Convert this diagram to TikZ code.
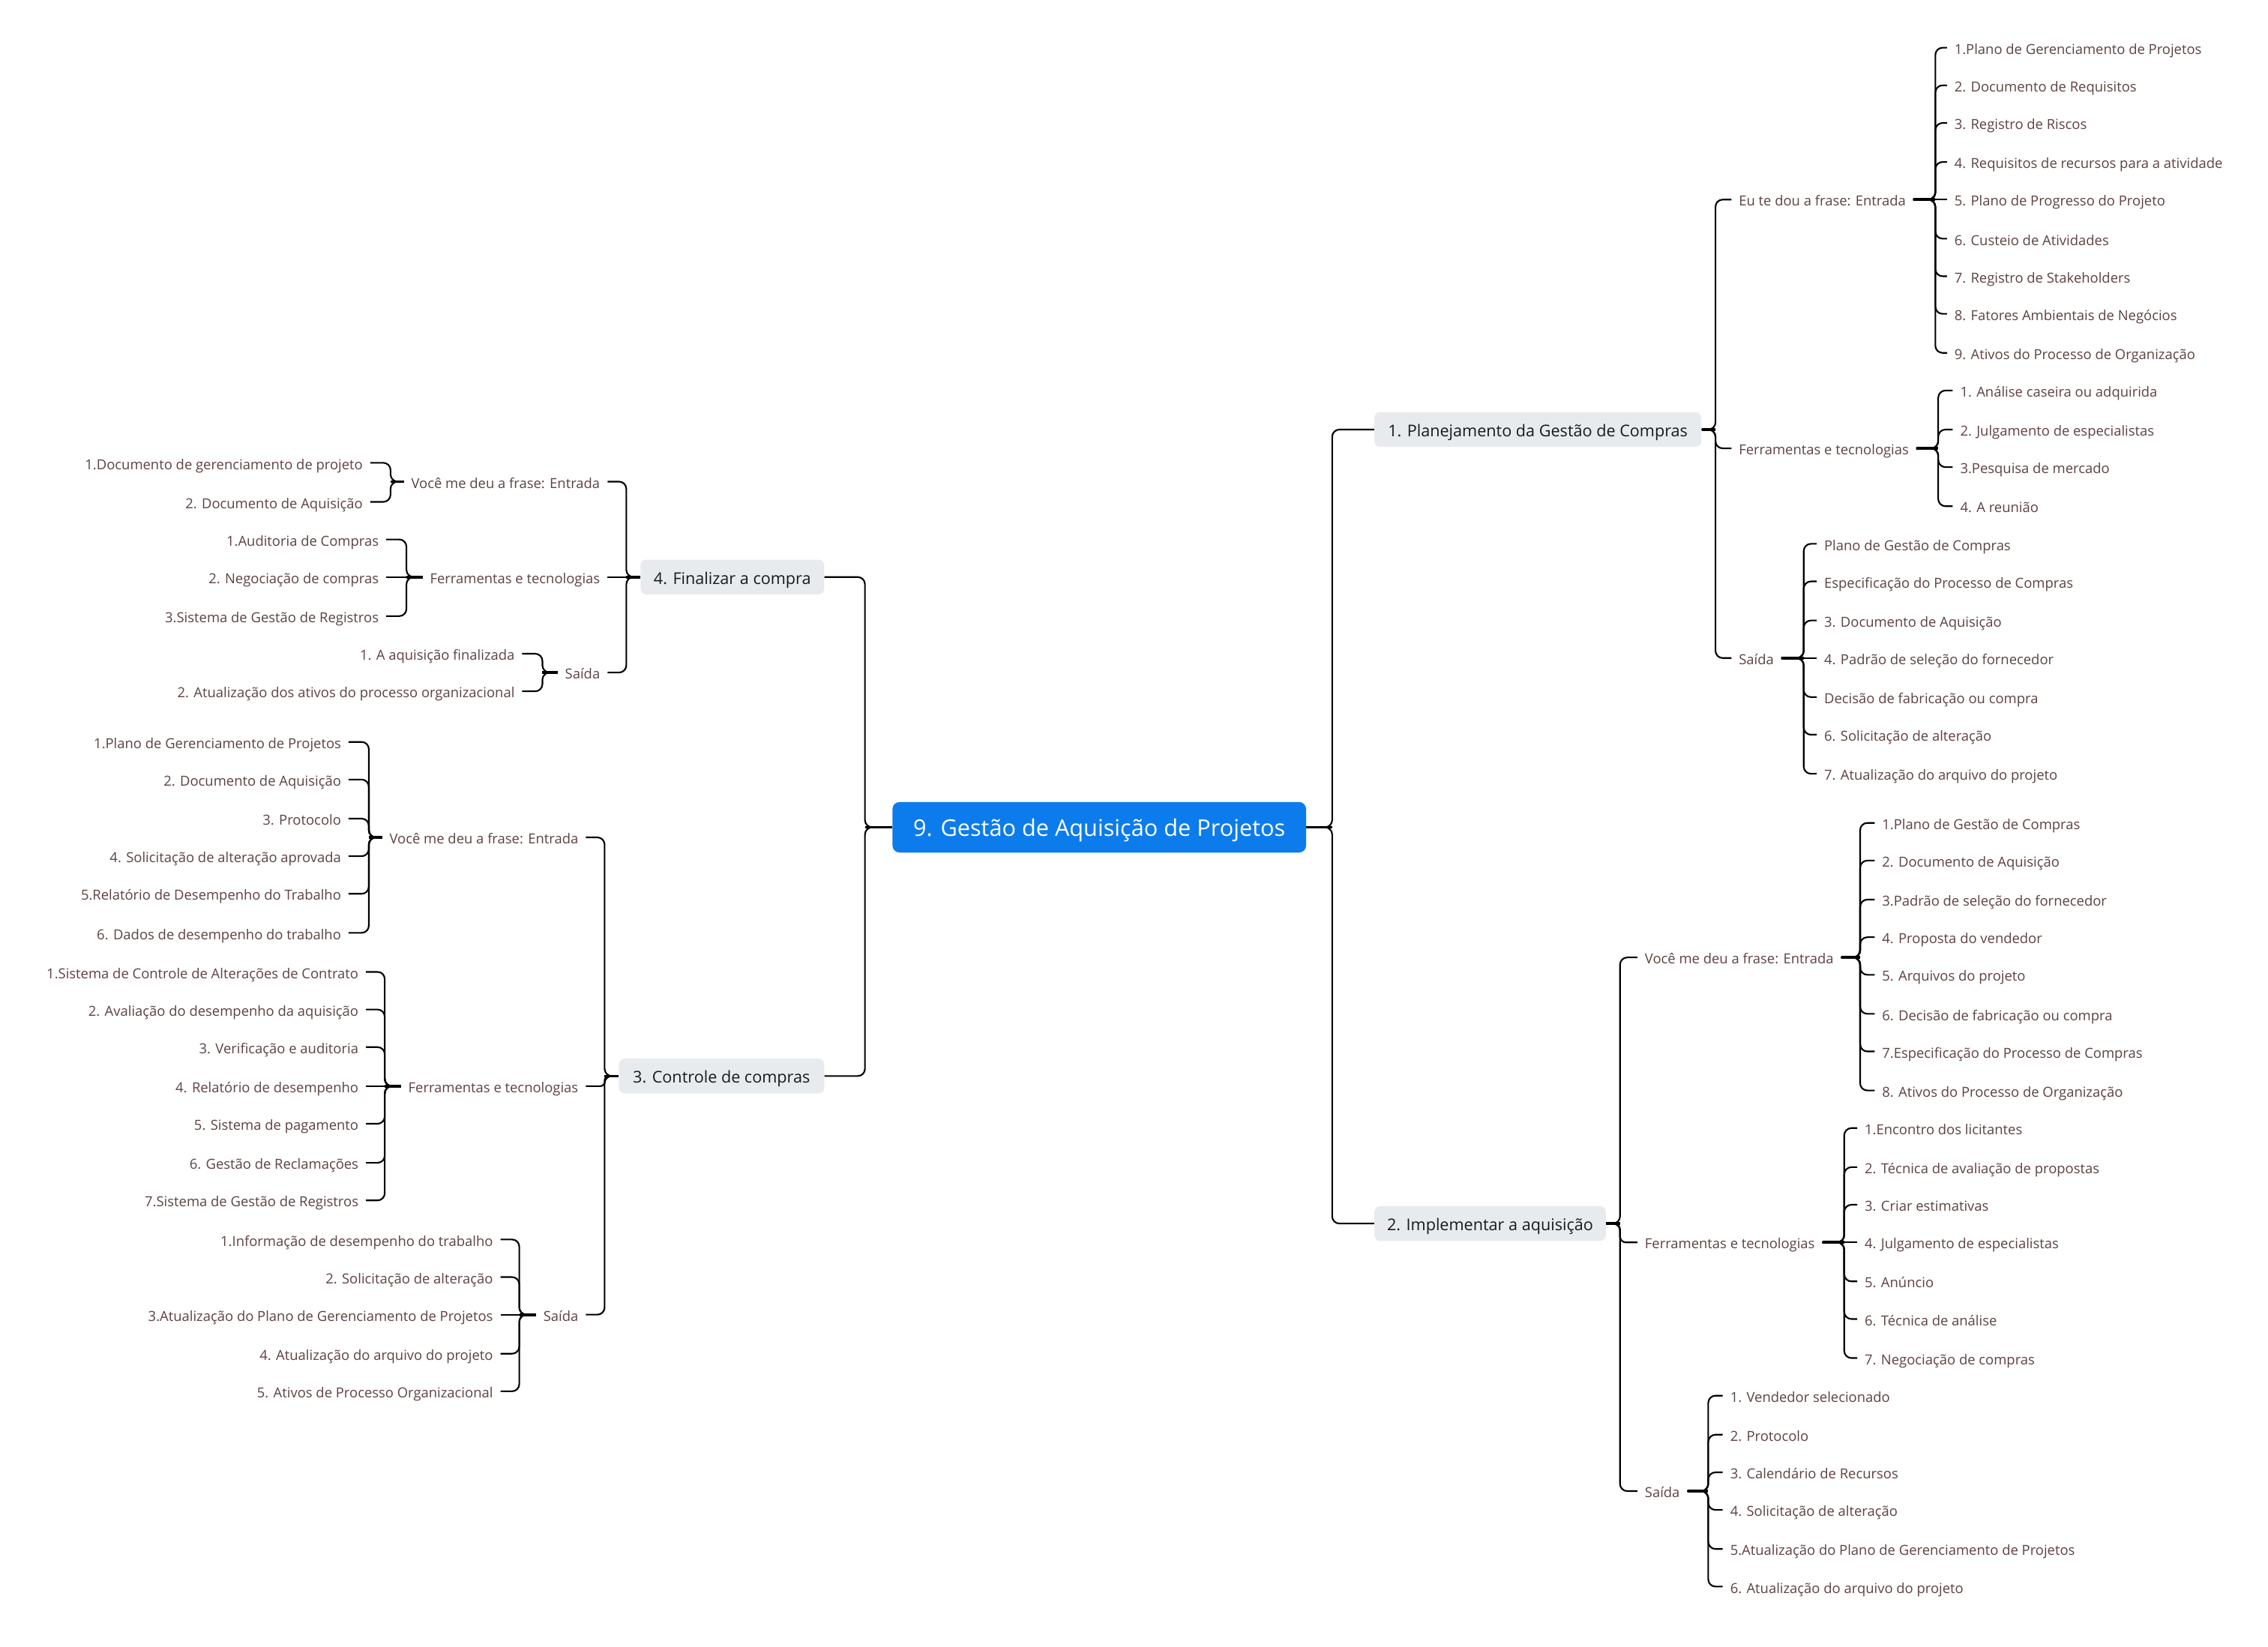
\documentclass[tikz,border=0pt]{standalone}
\usepackage{fontspec}
\setmainfont{Open Sans}
\definecolor{txt}{HTML}{5E4242}
\definecolor{rootblue}{HTML}{0C7CEC}
\definecolor{boxgray}{HTML}{E8EBEE}
\newcommand\linkR[3]{\draw[conn] (#1.east) -- (#1.east -| #2) |- (#3.west);}
\newcommand\linkL[3]{\draw[conn] (#1.west) -- (#1.west -| #2) |- (#3.east);}
\newcommand\linkRS[2]{\draw[conn] (#1.east) -- (#2.west);}
\newcommand\linkLS[2]{\draw[conn] (#1.west) -- (#2.east);}
\newcommand\stubR[2]{\draw[stubline] (#1.east) -- (#1.east -| #2);}
\newcommand\stubL[2]{\draw[stubline] (#1.west) -- (#1.west -| #2);}
\newcommand\itemsR[3]{\foreach \yv/\tv [count=\ci] in {#3} {\node[item,anchor=west] (#1-\ci) at (#2,\yv) {\tv};}}
\newcommand\itemsL[3]{\foreach \yv/\tv [count=\ci] in {#3} {\node[item,anchor=east] (#1-\ci) at (#2,\yv) {\tv};}}
\begin{document}
\begin{tikzpicture}[x=1pt,y=-1pt,
  item/.style={font=\fontsize{9.55}{11}\selectfont, text=txt, inner xsep=5pt, inner ysep=1pt, text height=11pt, text depth=2pt},
  lvone/.style={font=\fontsize{11.2}{13}\selectfont, fill=boxgray, rounded corners=4pt, text=black!90, inner xsep=4pt, inner ysep=1pt, minimum height=24pt, text height=12pt, text depth=2.4pt},
  rootbox/.style={font=\fontsize{15.9}{18}\selectfont, fill=rootblue, rounded corners=5pt, text=white, inner xsep=4pt, inner ysep=1pt, minimum height=35pt, minimum width=286pt, text height=15.5pt, text depth=3.4pt},
  conn/.style={draw=black, line width=1.1pt, rounded corners=5pt},
  stubline/.style={draw=black, line width=1.9pt}]
\useasboundingbox (0,0) rectangle (1568,1138.3);
\fill[white] (0,0) rectangle (1568,1138.3);

% bracket x positions
\coordinate (bR) at (921,0);
\coordinate (bL) at (598,0);
\coordinate (bP1) at (1186,0);
\coordinate (bP2) at (1120,0);
\coordinate (bP4) at (433,0);
\coordinate (bP3) at (418,0);
\coordinate (bE1) at (1338,0);
\coordinate (bF1) at (1340,0);
\coordinate (bS1) at (1247,0);
\coordinate (bE2) at (1286,0);
\coordinate (bF2) at (1275,0);
\coordinate (bS2) at (1181,0);
\coordinate (bE4) at (270,0);
\coordinate (bF4) at (281,0);
\coordinate (bS4) at (375,0);
\coordinate (bE3) at (255,0);
\coordinate (bF3) at (266,0);
\coordinate (bS3) at (359,0);

% root and main branches
\node[rootbox] (root) at (760,572) {9. Gestão de Aquisição de Projetos};
\node[lvone, anchor=west, minimum width=226pt] (P1) at (950,297) {1. Planejamento da Gestão de Compras};
\node[lvone, anchor=west, minimum width=160pt] (P2) at (950,846) {2. Implementar a aquisição};
\node[lvone, anchor=east, minimum width=127pt] (P4) at (570,399) {4. Finalizar a compra};
\node[lvone, anchor=east, minimum width=142pt] (P3) at (570,744) {3. Controle de compras};

% second level
\node[item, anchor=west] (E1) at (1197,138) {Eu te dou a frase: Entrada};
\node[item, anchor=west] (F1) at (1197,310) {Ferramentas e tecnologias};
\node[item, anchor=west] (S1) at (1197,455) {Saída};
\node[item, anchor=west] (E2) at (1132,662) {Você me deu a frase: Entrada};
\node[item, anchor=west] (F2) at (1132,859) {Ferramentas e tecnologias};
\node[item, anchor=west] (S2) at (1132,1031) {Saída};
\node[item, anchor=east] (E4) at (420,333) {Você me deu a frase: Entrada};
\node[item, anchor=east] (F4) at (420,399) {Ferramentas e tecnologias};
\node[item, anchor=east] (S4) at (420,465) {Saída};
\node[item, anchor=east] (E3) at (405,579) {Você me deu a frase: Entrada};
\node[item, anchor=east] (F3) at (405,751) {Ferramentas e tecnologias};
\node[item, anchor=east] (S3) at (405,909) {Saída};

% leaves
\itemsR{e1}{1346}{33/1.Plano de Gerenciamento de Projetos, 59/2. Documento de Requisitos, 85/3. Registro de Riscos, 112/4. Requisitos de recursos para a atividade, 138/5. Plano de Progresso do Projeto, 165/6. Custeio de Atividades, 191/7. Registro de Stakeholders, 217/8. Fatores Ambientais de Negócios, 244/9. Ativos do Processo de Organização}
\itemsR{f1}{1350}{270/1. Análise caseira ou adquirida, 297/2. Julgamento de especialistas, 323/3.Pesquisa de mercado, 350/4. A reunião}
\itemsR{s1}{1256}{376/Plano de Gestão de Compras, 402/Especificação do Processo de Compras, 429/3. Documento de Aquisição, 455/4. Padrão de seleção do fornecedor, 482/Decisão de fabricação ou compra, 508/6. Solicitação de alteração, 535/7. Atualização do arquivo do projeto}
\itemsR{e2}{1296}{569/1.Plano de Gestão de Compras, 595/2. Documento de Aquisição, 622/3.Padrão de seleção do fornecedor, 648/4. Proposta do vendedor, 674/5. Arquivos do projeto, 701/6. Decisão de fabricação ou compra, 727/7.Especificação do Processo de Compras, 754/8. Ativos do Processo de Organização}
\itemsR{f2}{1284}{780/1.Encontro dos licitantes, 807/2. Técnica de avaliação de propostas, 833/3. Criar estimativas, 859/4. Julgamento de especialistas, 886/5. Anúncio, 912/6. Técnica de análise, 939/7. Negociação de compras}
\itemsR{s2}{1191}{965/1. Vendedor selecionado, 992/2. Protocolo, 1018/3. Calendário de Recursos, 1044/4. Solicitação de alteração, 1071/5.Atualização do Plano de Gerenciamento de Projetos, 1097/6. Atualização do arquivo do projeto}
\itemsL{e4}{256}{320/1.Documento de gerenciamento de projeto, 347/2. Documento de Aquisição}
\itemsL{f4}{267}{373/1.Auditoria de Compras, 399/2. Negociação de compras, 426/3.Sistema de Gestão de Registros}
\itemsL{s4}{361}{452/1. A aquisição finalizada, 478/2. Atualização dos ativos do processo organizacional}
\itemsL{e3}{241}{513/1.Plano de Gerenciamento de Projetos, 539/2. Documento de Aquisição, 566/3. Protocolo, 592/4. Solicitação de alteração aprovada, 618/5.Relatório de Desempenho do Trabalho, 645/6. Dados de desempenho do trabalho}
\itemsL{f3}{253}{672/1.Sistema de Controle de Alterações de Contrato, 698/2. Avaliação do desempenho da aquisição, 724/3. Verificação e auditoria, 751/4. Relatório de desempenho, 777/5. Sistema de pagamento, 804/6. Gestão de Reclamações, 830/7.Sistema de Gestão de Registros}
\itemsL{s3}{346}{857/1.Informação de desempenho do trabalho, 883/2. Solicitação de alteração, 909/3.Atualização do Plano de Gerenciamento de Projetos, 936/4. Atualização do arquivo do projeto, 962/5. Ativos de Processo Organizacional}

% connectors: root
\stubR{root}{bR}
\linkR{root}{bR}{P1}
\linkR{root}{bR}{P2}
\stubL{root}{bL}
\linkL{root}{bL}{P4}
\linkL{root}{bL}{P3}

% P1
\stubR{P1}{bP1}
\foreach \n in {E1,F1,S1} {\linkR{P1}{bP1}{\n}}
\stubR{E1}{bE1}
\foreach \i in {1,2,3,4,6,7,8,9} {\linkR{E1}{bE1}{e1-\i}}
\linkRS{E1}{e1-5}
\stubR{F1}{bF1}
\foreach \i in {1,2,3,4} {\linkR{F1}{bF1}{f1-\i}}
\stubR{S1}{bS1}
\foreach \i in {1,2,3,5,6,7} {\linkR{S1}{bS1}{s1-\i}}
\linkRS{S1}{s1-4}

% P2
\stubR{P2}{bP2}
\foreach \n in {E2,S2} {\linkR{P2}{bP2}{\n}}
\draw[conn, rounded corners=4pt] (P2.east) -- (P2.east -| bP2) |- (F2.west);
\stubR{E2}{bE2}
\foreach \i in {1,...,8} {\linkR{E2}{bE2}{e2-\i}}
\stubR{F2}{bF2}
\foreach \i in {1,2,3,5,6,7} {\linkR{F2}{bF2}{f2-\i}}
\linkRS{F2}{f2-4}
\stubR{S2}{bS2}
\foreach \i in {1,...,6} {\linkR{S2}{bS2}{s2-\i}}

% P4
\stubL{P4}{bP4}
\foreach \n in {E4,S4} {\linkL{P4}{bP4}{\n}}
\linkLS{P4}{F4}
\stubL{E4}{bE4}
\foreach \i in {1,2} {\linkL{E4}{bE4}{e4-\i}}
\stubL{F4}{bF4}
\foreach \i in {1,3} {\linkL{F4}{bF4}{f4-\i}}
\linkLS{F4}{f4-2}
\stubL{S4}{bS4}
\foreach \i in {1,2} {\linkL{S4}{bS4}{s4-\i}}

% P3
\stubL{P3}{bP3}
\foreach \n in {E3,S3} {\linkL{P3}{bP3}{\n}}
\draw[conn, rounded corners=3pt] (P3.west) -- (P3.west -| bP3) |- (F3.east);
\stubL{E3}{bE3}
\foreach \i in {1,...,6} {\linkL{E3}{bE3}{e3-\i}}
\stubL{F3}{bF3}
\foreach \i in {1,2,3,5,6,7} {\linkL{F3}{bF3}{f3-\i}}
\linkLS{F3}{f3-4}
\stubL{S3}{bS3}
\foreach \i in {1,2,4,5} {\linkL{S3}{bS3}{s3-\i}}
\linkLS{S3}{s3-3}
\end{tikzpicture}
\end{document}
